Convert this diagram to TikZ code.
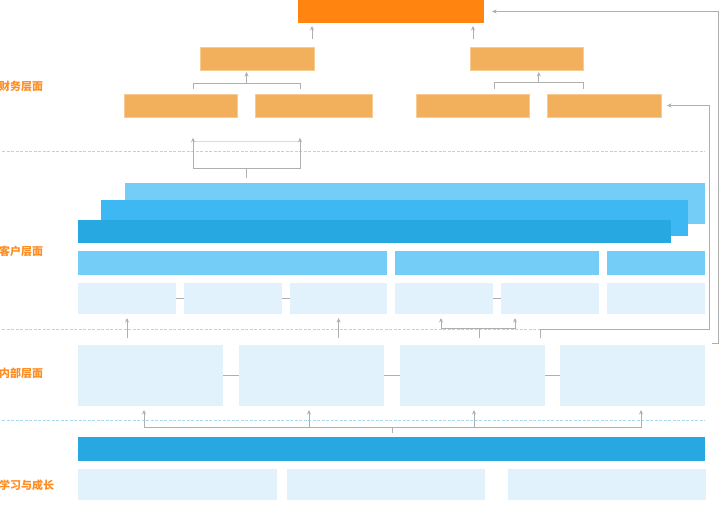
\documentclass[tikz,border=0pt]{standalone}
\usepackage{fontspec}
\newfontfamily\cjk{Noto Sans CJK SC}
\usetikzlibrary{arrows.meta,calc}

\definecolor{goalfill}{HTML}{FF8510}
\definecolor{finfill}{HTML}{F2B05C}
\definecolor{finedge}{HTML}{F8CB92}
\definecolor{custback}{HTML}{73CDF7}
\definecolor{custmid}{HTML}{3DB8F2}
\definecolor{custfront}{HTML}{28A8E0}
\definecolor{palefill}{HTML}{E1F2FC}
\definecolor{linkgray}{HTML}{AFAFAF}
\definecolor{faintgray}{HTML}{DCDCDC}
\definecolor{seplight}{HTML}{A9D9F2}
\definecolor{labelorange}{HTML}{FF8C21}

\begin{document}
\begin{tikzpicture}[
    x=1pt,y=-1pt,
    box/.style={inner sep=0pt,outer sep=0pt,anchor=north west},
    fin/.style={box,fill=finfill,draw=finedge,line width=0.5pt},
    pale/.style={box,fill=palefill},
    link/.style={draw=linkgray,line width=0.8pt},
    arr/.style={link,-{Stealth[length=4.5pt,width=4pt]}},
    sep/.style={draw=seplight,line width=0.9pt,dash pattern=on 3pt off 1.5pt},
    layer/.style={anchor=west,inner sep=0pt,text=labelorange,font=\cjk\bfseries\fontsize{11}{13}\selectfont},
]
    \useasboundingbox (0,0) rectangle (720,527);

    % layer names
    \node[layer] (lblFin) at (-1,86) {财务层面};
    \node[layer] (lblCust) at (-1,251) {客户层面};
    \node[layer] (lblInt) at (-1,373) {内部层面};
    \node[layer] (lblLearn) at (-1,485) {学习与成长};

    % separators
    \draw[sep] (2,151) -- (705,151);
    \draw[sep] (2,329) -- (705,329);
    \draw[sep] (2,420.7) -- (705,420.7);

    % finance
    \node[box,fill=goalfill,minimum width=186pt,minimum height=23pt] (goal) at (298,0) {};
    \node[fin,minimum width=114pt,minimum height=23pt] (finL) at (200,47) {};
    \node[fin,minimum width=113pt,minimum height=23pt] (finR) at (470,47) {};
    \node[fin,minimum width=113pt,minimum height=23pt] (finA) at (124,94) {};
    \node[fin,minimum width=117pt,minimum height=23pt] (finB) at (255,94) {};
    \node[fin,minimum width=113pt,minimum height=23pt] (finC) at (416,94) {};
    \node[fin,minimum width=113.3pt,minimum height=23pt] (finD) at (547.7,94) {};

    % customer
    \node[box,fill=custback,minimum width=580pt,minimum height=41pt] (stackA) at (125,183) {};
    \node[box,fill=custmid,minimum width=586.7pt,minimum height=36pt] (stackB) at (101,200) {};
    \node[box,fill=custfront,minimum width=593pt,minimum height=23.3pt] (stackC) at (78,220) {};
    \node[box,fill=custback,minimum width=309.3pt,minimum height=23.4pt] (segA) at (78,251.3) {};
    \node[box,fill=custback,minimum width=204.3pt,minimum height=23.4pt] (segB) at (394.7,251.3) {};
    \node[box,fill=custback,minimum width=98pt,minimum height=23.4pt] (segC) at (607,251.3) {};
    \node[pale,minimum width=98pt,minimum height=31pt] (custA) at (78,283) {};
    \node[pale,minimum width=98pt,minimum height=31pt] (custB) at (184,283) {};
    \node[pale,minimum width=97.3pt,minimum height=31pt] (custC) at (290,283) {};
    \node[pale,minimum width=98pt,minimum height=31pt] (custD) at (395.3,283) {};
    \node[pale,minimum width=97.7pt,minimum height=31pt] (custE) at (501.3,283) {};
    \node[pale,minimum width=98pt,minimum height=31pt] (custF) at (607,283) {};

    % internal
    \node[pale,minimum width=145pt,minimum height=60.7pt] (intA) at (78,345) {};
    \node[pale,minimum width=145pt,minimum height=60.7pt] (intB) at (239,345) {};
    \node[pale,minimum width=145pt,minimum height=60.7pt] (intC) at (400,345) {};
    \node[pale,minimum width=145pt,minimum height=60.7pt] (intD) at (560,345) {};

    % learning and growth
    \node[box,fill=custfront,minimum width=627pt,minimum height=23.4pt] (learnBar) at (78,437.3) {};
    \node[pale,minimum width=198.7pt,minimum height=31pt] (learnA) at (78,468.7) {};
    \node[pale,minimum width=198.3pt,minimum height=31pt] (learnB) at (286.7,468.7) {};
    \node[pale,minimum width=198pt,minimum height=31pt] (learnC) at (507.7,468.7) {};

    % side links
    \draw[link] (custA) -- (custB);
    \draw[link] (custB) -- (custC);
    \draw[link] (custD) -- (custE);
    \draw[link] (intA) -- (intB);
    \draw[link] (intB) -- (intC);
    \draw[link] (intC) -- (intD);

    % into the goal
    \coordinate (g1) at (312,39);
    \coordinate (g2) at (473,39);
    \draw[arr,shorten >=3pt] (g1) -- (g1 |- goal.south);
    \draw[arr,shorten >=3pt] (g2) -- (g2 |- goal.south);

    % brackets under the second row
    \coordinate (bLa) at (193,89);
    \coordinate (bLb) at (300,89);
    \coordinate (jL) at (246.5,83.3);
    \draw[link] (bLa) |- (jL) -| (bLb);
    \draw[arr,shorten >=2pt] (jL) -- (jL |- finL.south);
    \coordinate (bRa) at (494.7,88.7);
    \coordinate (bRb) at (583,88.7);
    \coordinate (jR) at (538.8,82.7);
    \draw[link] (bRa) |- (jR) -| (bRb);
    \draw[arr,shorten >=2pt] (jR) -- (jR |- finR.south);

    % customer stack up to finance
    \coordinate (kA) at (193,137.7);
    \coordinate (kB) at (300,137.7);
    \coordinate (kJ) at (246.5,168);
    \coordinate (kS) at (246.5,178);
    \draw[draw=faintgray,line width=0.8pt] ($(kA)+(0,4)$) -- ($(kB)+(0,4)$);
    \draw[link] (kS) -- (kJ);
    \draw[arr] (kJ) -| (kA);
    \draw[arr] (kJ) -| (kB);

    % feedback lines on the right
    \coordinate (o1) at (712,343);
    \draw[arr,shorten >=8pt] (o1) -- ++(6,0) |- (goal.east);
    \coordinate (o2) at (540,338);
    \draw[arr,shorten >=6pt] (o2) -- ++(0,-9) -- ++(169,0) |- (finD.east);

    % internal up to customer
    \draw[arr,shorten >=4pt] ($(custA.south)+(0,24)$) -- (custA.south);
    \draw[arr,shorten >=4pt] ($(custC.south)+(0,24)$) -- (custC.south);
    \coordinate (dA) at (441,318);
    \coordinate (dB) at (515,318);
    \coordinate (dJ) at (479,328.7);
    \coordinate (dS) at (479,338);
    \draw[link] (dS) -- (dJ);
    \draw[arr] (dJ) -| (dA);
    \draw[arr] (dJ) -| (dB);

    % learning up to internal
    \coordinate (lJ) at (392,427.3);
    \coordinate (lS) at (392,432.7);
    \draw[link] (lS) -- (lJ);
    \foreach \x [count=\i] in {144,309,474,641} {
        \coordinate (up\i) at (\x,410);
        \draw[arr] (lJ) -| (up\i);
    }
\end{tikzpicture}
\end{document}
